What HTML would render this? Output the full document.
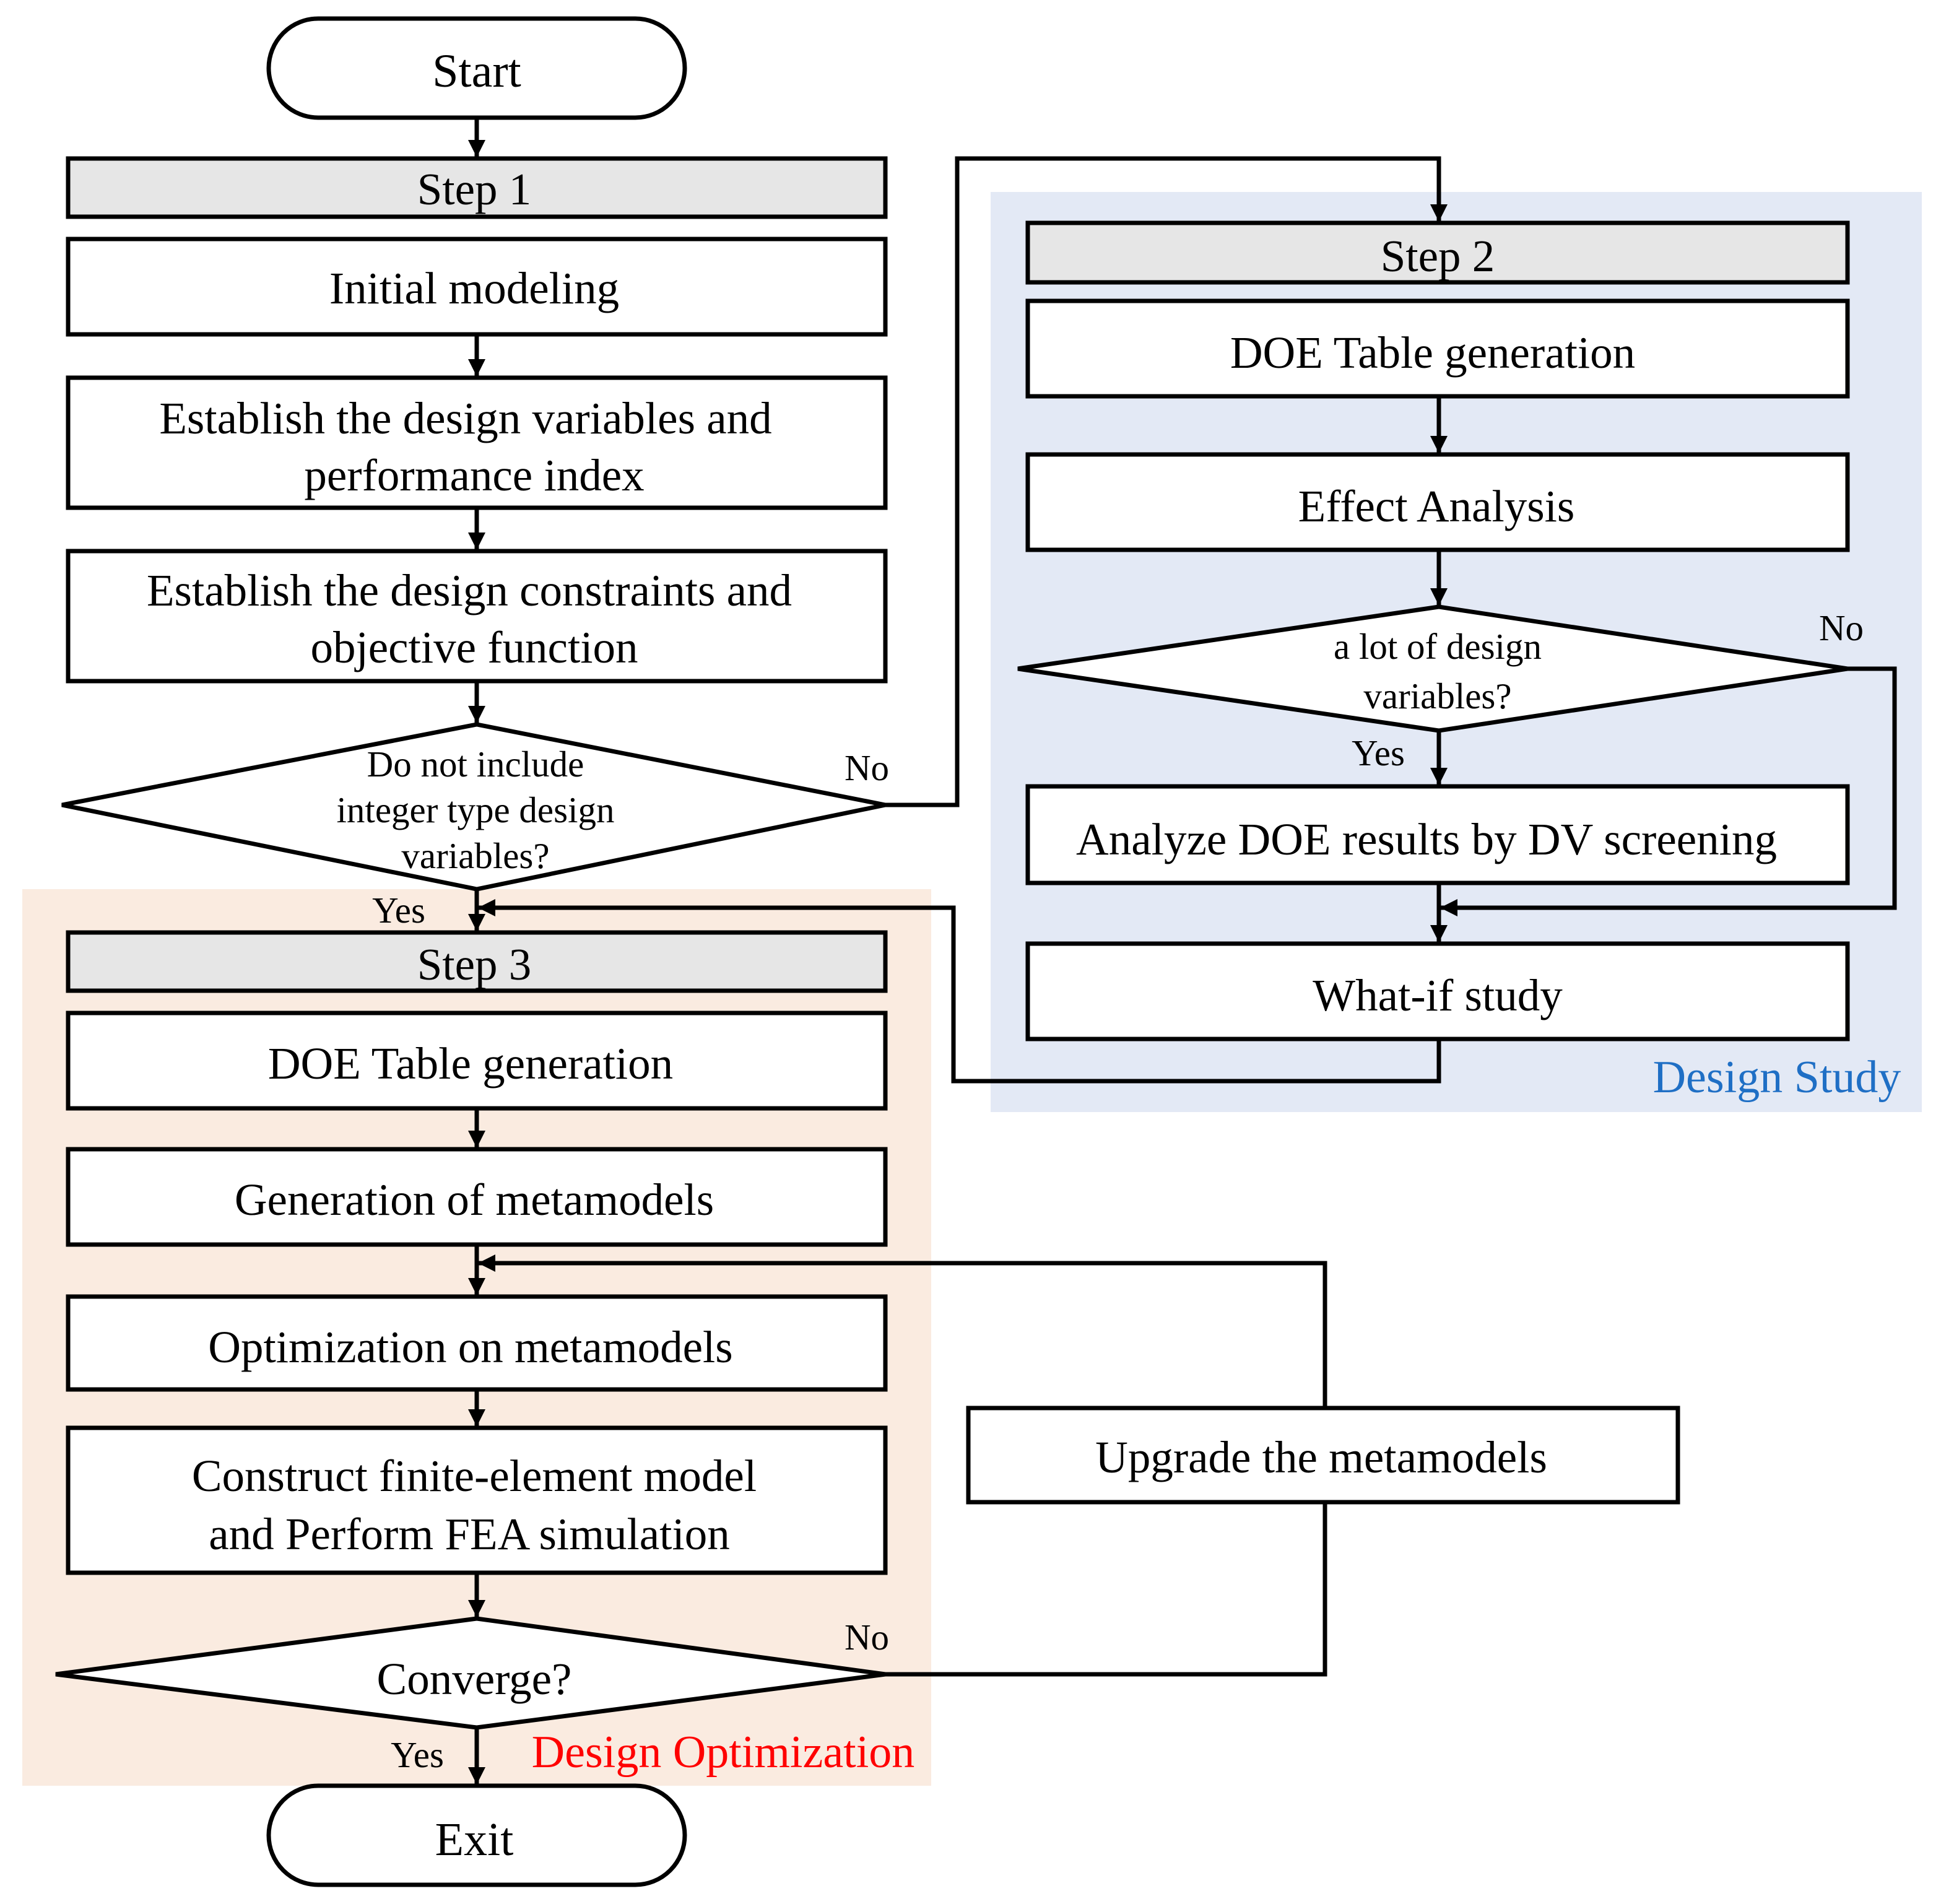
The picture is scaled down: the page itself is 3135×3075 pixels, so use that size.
<!DOCTYPE html>
<html><head><meta charset="utf-8"><style>
html,body{margin:0;padding:0;background:#fff;}
svg{display:block;}
text{font-family:"Liberation Serif",serif;fill:#000;}
</style></head><body>
<svg width="3135" height="3075" viewBox="0 0 1567.5 1537.5" xmlns="http://www.w3.org/2000/svg">
<defs>
<marker id="a" viewBox="0 0 10 10" refX="10" refY="5" markerWidth="4" markerHeight="4" orient="auto" markerUnits="strokeWidth">
<path d="M0,0 L10,5 L0,10 z" fill="#000"/></marker>
</defs>
<rect x="0" y="0" width="1567.5" height="1537.5" fill="#fff"/>
<rect x="800" y="155" width="752" height="743" fill="#e3e9f5"/>
<rect x="18" y="718" width="734" height="724" fill="#faebe0"/>
<g fill="none" stroke="#000" stroke-width="3.5">
<rect x="217" y="15" width="336" height="80" rx="40" fill="#fff"/>
<rect x="55" y="128" width="660" height="47" fill="#e6e6e6"/>
<rect x="55" y="193" width="660" height="77" fill="#fff"/>
<rect x="55" y="305" width="660" height="105" fill="#fff"/>
<rect x="55" y="445" width="660" height="105" fill="#fff"/>
<polygon points="385,585 50,650 385,718 715,650" fill="#fff"/>
<rect x="830" y="180" width="662" height="48" fill="#e6e6e6"/>
<rect x="830" y="243" width="662" height="77" fill="#fff"/>
<rect x="830" y="367" width="662" height="77" fill="#fff"/>
<polygon points="1162,490 822,540 1162,590 1492,540" fill="#fff"/>
<rect x="830" y="635" width="662" height="78" fill="#fff"/>
<rect x="830" y="762" width="662" height="77" fill="#fff"/>
<rect x="55" y="753" width="660" height="47" fill="#e6e6e6"/>
<rect x="55" y="818" width="660" height="77" fill="#fff"/>
<rect x="55" y="928" width="660" height="77" fill="#fff"/>
<rect x="55" y="1047" width="660" height="75" fill="#fff"/>
<rect x="55" y="1153" width="660" height="117" fill="#fff"/>
<polygon points="385,1307 45,1352 385,1395 715,1352" fill="#fff"/>
<rect x="782" y="1137" width="573" height="76" fill="#fff"/>
<rect x="217" y="1442" width="336" height="80" rx="40" fill="#fff"/>
<line x1="385" y1="95" x2="385" y2="127" marker-end="url(#a)"/>
<line x1="385" y1="270" x2="385" y2="304" marker-end="url(#a)"/>
<line x1="385" y1="410" x2="385" y2="444" marker-end="url(#a)"/>
<line x1="385" y1="550" x2="385" y2="584" marker-end="url(#a)"/>
<polyline points="715,650 773,650 773,128 1162,128 1162,179" marker-end="url(#a)"/>
<line x1="385" y1="718" x2="385" y2="752" marker-end="url(#a)"/>
<line x1="1162" y1="320" x2="1162" y2="366" marker-end="url(#a)"/>
<line x1="1162" y1="444" x2="1162" y2="489" marker-end="url(#a)"/>
<line x1="1162" y1="590" x2="1162" y2="634" marker-end="url(#a)"/>
<line x1="1162" y1="713" x2="1162" y2="761" marker-end="url(#a)"/>
<polyline points="1492,540 1530,540 1530,733 1163,733" marker-end="url(#a)"/>
<polyline points="1162,839 1162,873 770,873 770,733 386,733" marker-end="url(#a)"/>
<line x1="385" y1="895" x2="385" y2="927" marker-end="url(#a)"/>
<line x1="385" y1="1005" x2="385" y2="1046" marker-end="url(#a)"/>
<line x1="385" y1="1122" x2="385" y2="1152" marker-end="url(#a)"/>
<line x1="385" y1="1270" x2="385" y2="1306" marker-end="url(#a)"/>
<polyline points="715,1352 1070,1352 1070,1213"/>
<polyline points="1070,1137 1070,1020 386,1020" marker-end="url(#a)"/>
<line x1="385" y1="1395" x2="385" y2="1441" marker-end="url(#a)"/>
</g>
<g font-size="38" text-anchor="middle">
<text x="385" y="70">Start</text>
<text x="383" y="1498">Exit</text>
</g>
<g font-size="36.5" text-anchor="middle">
<text x="383" y="165">Step 1</text>
<text x="383" y="245">Initial modeling</text>
<text x="376" y="350">Establish the design variables and</text>
<text x="383" y="396">performance index</text>
<text x="379" y="489">Establish the design constraints and</text>
<text x="383" y="535">objective function</text>
<text x="1161" y="219">Step 2</text>
<text x="1157" y="297">DOE Table generation</text>
<text x="1160" y="421">Effect Analysis</text>
<text x="1152" y="690">Analyze DOE results by DV screening</text>
<text x="1161" y="816">What-if study</text>
<text x="383" y="791">Step 3</text>
<text x="380" y="871">DOE Table generation</text>
<text x="383" y="981">Generation of metamodels</text>
<text x="380" y="1100">Optimization on metamodels</text>
<text x="383" y="1204">Construct finite-element model</text>
<text x="379" y="1251">and Perform FEA simulation</text>
<text x="1067" y="1189">Upgrade  the metamodels</text>
<text x="383" y="1368">Converge?</text>
</g>
<g font-size="29.5" text-anchor="middle">
<text x="384" y="627">Do not include</text>
<text x="384" y="664">integer type design</text>
<text x="384" y="701">variables?</text>
<text x="1161" y="532">a lot of design</text>
<text x="1161" y="572">variables?</text>
<text x="700" y="630">No</text>
<text x="1487" y="517">No</text>
<text x="700" y="1332">No</text>
<text x="322" y="745">Yes</text>
<text x="1113" y="618">Yes</text>
<text x="337" y="1427">Yes</text>
</g>
<text x="1435" y="882" font-size="37" text-anchor="middle" style="fill:#1f6fc5">Design Study</text>
<text x="584" y="1427" font-size="37" text-anchor="middle" style="fill:#ff0000">Design Optimization</text>
</svg>
</body></html>
